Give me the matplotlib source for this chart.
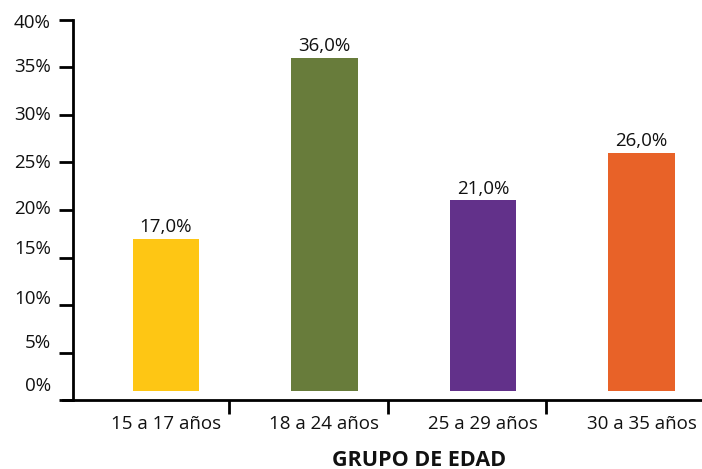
import matplotlib
matplotlib.use("Agg")
import matplotlib.pyplot as plt

# ---- data ----
categories = ["15 a 17 años", "18 a 24 años", "25 a 29 años", "30 a 35 años"]
values = [17.0, 36.0, 21.0, 26.0]
value_labels = ["17,0%", "36,0%", "21,0%", "26,0%"]
y_ticks = [0, 5, 10, 15, 20, 25, 30, 35, 40]
y_tick_labels = ["0%", "5%", "10%", "15%", "20%", "25%", "30%", "35%", "40%"]
x_title = "GRUPO DE EDAD"

# ---- style ----
colors = ["#FEC614", "#687C3B", "#62318A", "#E86228"]
bar_base = 0.95
bar_width = 0.42
# vertical drift of y tick labels in the reference (pixels, + = up)
label_dy_px = [14, 10, 6, 9, 1, 0, 0, 0, -3]
fs = 13.5

plt.rcParams["font.family"] = ["Open Sans", "DejaVu Sans"]

fig = plt.figure(figsize=(7.02, 4.69), dpi=100)
W, H = 702, 469
ax = fig.add_axes([63 / W, 69 / H, 639 / W, 380 / H])

x = list(range(len(categories)))
ax.bar(x, [v - bar_base for v in values], bottom=bar_base, width=bar_width,
       color=colors, linewidth=0)

for xi, v, lab in zip(x, values, value_labels):
    ax.annotate(lab, xy=(xi, v), xytext=(0, 4.7), textcoords="offset points",
                ha="center", va="baseline", fontsize=fs, color="#111111")

ax.set_ylim(0, 40)
ax.set_xlim(-0.65, 3.382)

for s in ["top", "right"]:
    ax.spines[s].set_visible(False)
ax.spines["left"].set_position(("axes", 10 / 639))
ax.spines["left"].set_linewidth(2)
ax.spines["bottom"].set_linewidth(2)

ax.set_yticks(y_ticks)
ax.tick_params(axis="y", length=10, width=2, direction="out", labelleft=False)
for t, lab, dy in zip(y_ticks, y_tick_labels, label_dy_px):
    ax.annotate(lab, xy=(10 / 639, t), xycoords=ax.get_yaxis_transform(),
                xytext=(-22 * 0.72, dy * 0.72), textcoords="offset points",
                ha="right", va="center", fontsize=fs, color="#111111")

ax.set_xticks(x)
ax.set_xticklabels(categories, fontsize=fs, color="#111111")
ax.tick_params(axis="x", which="major", length=0, pad=11)
ax.set_xticks([0.4, 1.4, 2.4], minor=True)
ax.tick_params(axis="x", which="minor", length=10, width=2, direction="out")

ax.set_xlabel(x_title, fontsize=15.5, fontweight="bold", color="#111111")
ax.xaxis.set_label_coords((419 - 63) / 639, -(460 - 400) / 380)
ax.xaxis.label.set_va("center")

fig.savefig("out.png", dpi=100)
